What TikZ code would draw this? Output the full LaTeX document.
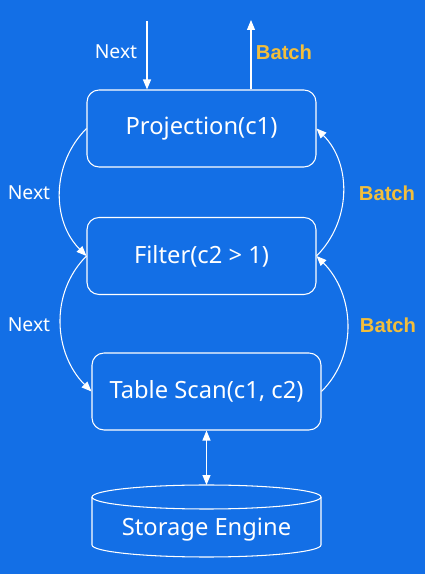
\documentclass[tikz,border=0pt]{standalone}
\usepackage{fontspec}
\setmainfont{Noto Sans}
\newfontfamily\batchfont{Liberation Sans}
\usepackage{tikz}
\usetikzlibrary{arrows.meta, calc}
\definecolor{bgblue}{RGB}{19,111,230}
\definecolor{batchgold}{RGB}{242,190,60}
\tikzset{
  opbox/.style={draw=white, rounded corners=0.24cm, minimum width=4.58cm, minimum height=1.54cm, text=white, font=\fontsize{13.5}{16}\selectfont, line width=0.6pt},
  nextlabel/.style={text=white, font=\fontsize{11}{13}\selectfont},
  batchlabel/.style={text=batchgold, font=\batchfont\fontsize{11.5}{13}\selectfont\bfseries},
  flow/.style={->, >={Triangle[length=0.2cm,width=0.16cm]}, white, line width=0.6pt},
}

\begin{document}
\begin{tikzpicture}[x=0.02cm, y=0.02cm]
            \fill[bgblue] (0,0) rectangle (425,574); %背景
            \node[opbox] (proj) at (201.5,445.5) {Projection(c1)};
            \node[opbox] (filter) at (201.5,318) {Filter(c2 > 1)};
            \node[opbox] (scan) at (206.5,182.5) {Table Scan(c1, c2)};
            \draw[white, line width=0.6pt] (206.5,77) ellipse [x radius=114.5, y radius=12]; %円柱の上
            \draw[white, line width=0.6pt] (92,77) --(92,29) arc[start angle=180, end angle=360, x radius=114.5, y radius=12] --(321,77); %円柱の胴
            \node[text=white, font=\fontsize{13.5}{16}\selectfont] (storage) at (206.5,44) {Storage Engine};
            \coordinate (cyltop) at (206.5,89);
            \coordinate (nextin) at (147,553);
            \coordinate (batchout) at (251,554);
            \draw[flow] (nextin) --(nextin |- proj.north);
            \draw[flow] (batchout |- proj.north) --(batchout);
            \node[nextlabel] (next0) at (116,522) {Next};
            \node[batchlabel] (batch0) at (284,522) {Batch};
            \draw[flow] (proj.west) to[out=225,in=135] (filter.west); %Next
            \draw[flow] (filter.west) to[out=225,in=135] (scan.west);
            \draw[flow] (filter.east) to[out=45,in=-45] (proj.east); %Batch
            \draw[flow] (scan.east) to[out=45,in=-45] (filter.east);
            \node[nextlabel] (next1) at (29,381) {Next};
            \node[nextlabel] (next2) at (29,249) {Next};
            \node[batchlabel] (batch1) at (387,381) {Batch};
            \node[batchlabel] (batch2) at (388,249) {Batch};
            \draw[flow, <->] (scan.south) --(cyltop); %Storage
        \end{tikzpicture}
\end{document}
